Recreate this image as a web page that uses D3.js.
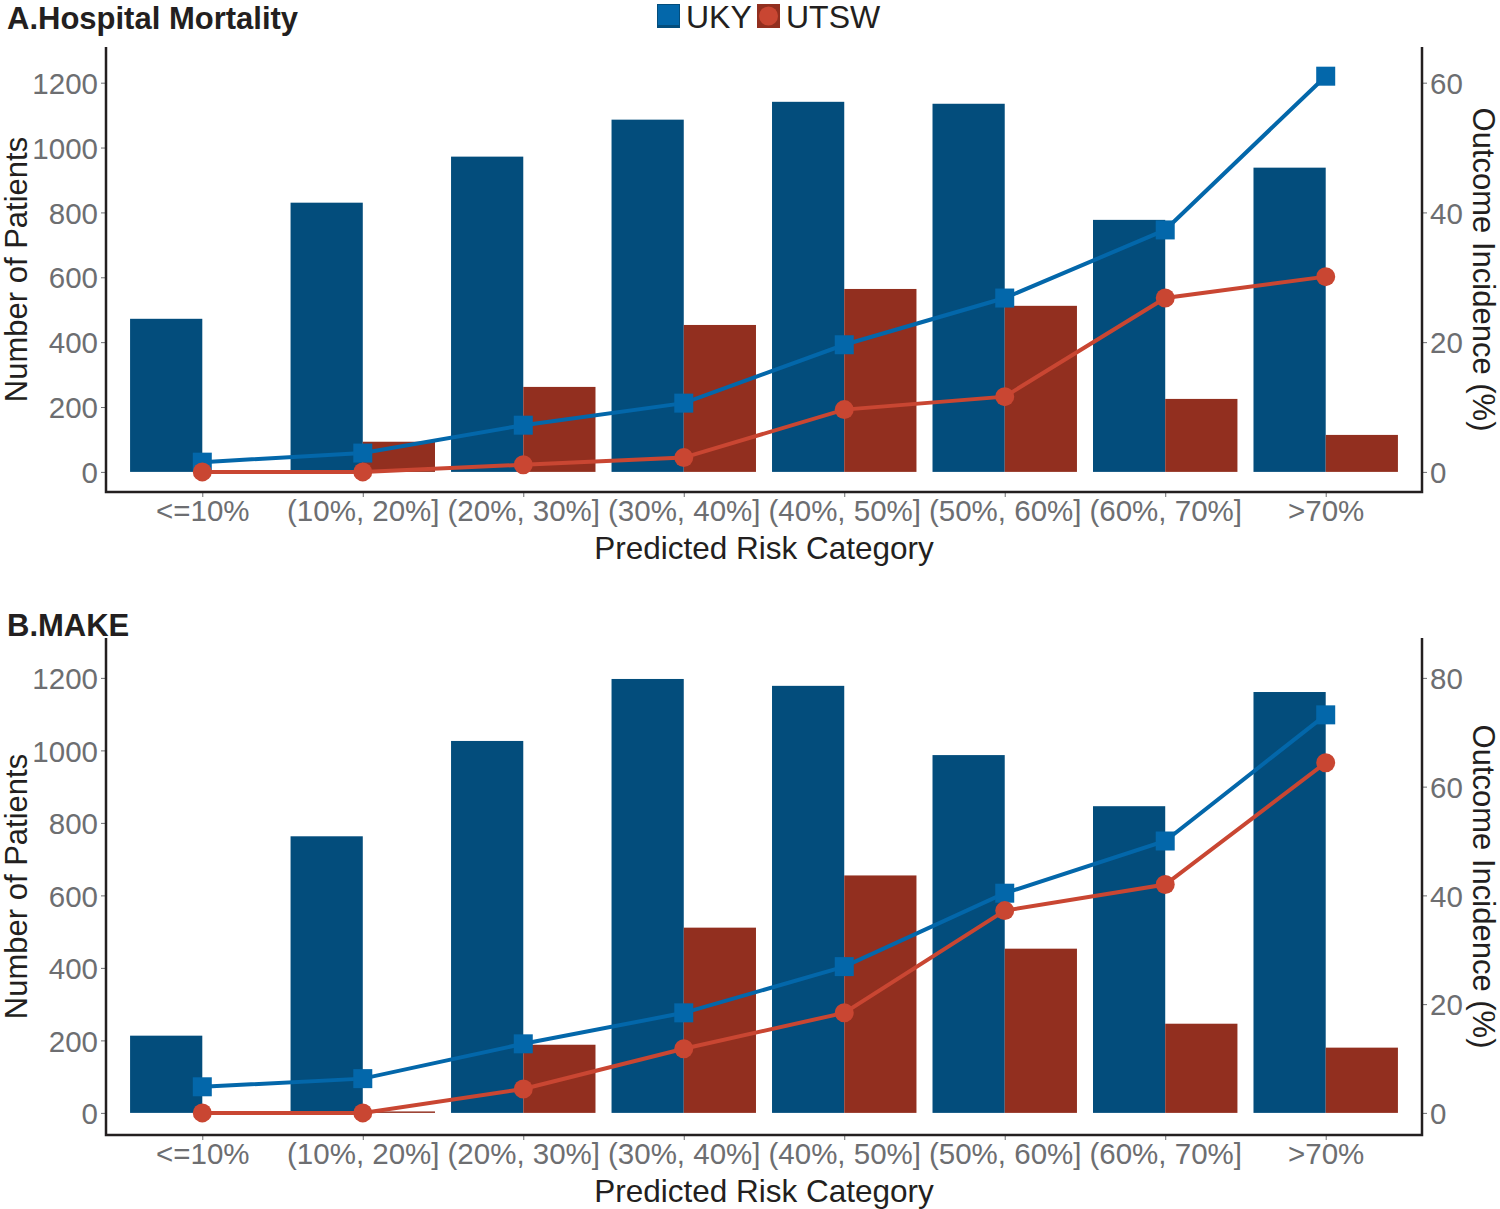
<!DOCTYPE html>
<html>
<head>
<meta charset="utf-8">
<script src="https://cdn.jsdelivr.net/npm/d3@7"></script>
<style>
  html, body { margin: 0; padding: 0; background: #fff; }
  svg { display: block; font-family: "Liberation Sans", Arial, sans-serif; }
</style>
</head>
<body>
<svg id="chart" width="1500" height="1209"></svg>
<script>
// ---------------- data ----------------
const categories = ["<=10%", "(10%, 20%]", "(20%, 30%]", "(30%, 40%]", "(40%, 50%]", "(50%, 60%]", "(60%, 70%]", ">70%"];
const seriesNames = ["UKY", "UTSW"];

// Panel A: Hospital Mortality
const mortalityUKYCount  = [472, 830, 972, 1086, 1141, 1135, 777, 938];
const mortalityUTSWCount = [0, 93, 262, 453, 564, 512, 225, 114];
const mortalityUKYRate   = [1.5, 2.9, 7.2, 10.6, 19.6, 26.8, 37.3, 61.0];
const mortalityUTSWRate  = [0, 0, 1.1, 2.2, 9.6, 11.6, 26.8, 30.1];

// Panel B: MAKE
const makeUKYCount  = [213, 763, 1026, 1197, 1178, 987, 846, 1161];
const makeUTSWCount = [0, 4, 188, 511, 655, 453, 246, 180];
const makeUKYRate   = [4.8, 6.3, 12.7, 18.4, 26.9, 40.4, 50.0, 73.2];
const makeUTSWRate  = [0, 0, 4.4, 11.8, 18.4, 37.2, 42.0, 64.4];

const leftTicks = [0, 200, 400, 600, 800, 1000, 1200];
const rightTicksA = [0, 20, 40, 60];
const rightTicksB = [0, 20, 40, 60, 80];

// ---------------- style ----------------
const colors = {
  ukyBar: "#034d7c", utswBar: "#922f1f",
  ukyLine: "#0367aa", utswLine: "#c94632",
  tick: "#6d6e71", axis: "#231f20", text: "#231f20"
};

const svg = d3.select("#chart");
const x = d3.scaleLinear().domain([0.4, 8.6]).range([106, 1422]);
const barW = 0.45;
const fmt = d3.format("d");

function panel(cfg) {
  const g = svg.append("g");
  const yL = d3.scaleLinear().domain(cfg.leftDomain).range([cfg.bottom, cfg.top]);
  const yR = d3.scaleLinear().domain(cfg.leftDomain.map(v => v / cfg.factor)).range([cfg.bottom, cfg.top]);

  // bars
  const idx = d3.range(categories.length);
  g.selectAll(".ukyBar").data(idx).join("rect")
    .attr("x", i => x(i + 1 - barW)).attr("width", x(1) - x(1 - barW))
    .attr("y", i => yL(cfg.ukyCount[i])).attr("height", i => yL(0) - yL(cfg.ukyCount[i]))
    .attr("fill", colors.ukyBar);
  g.selectAll(".utswBar").data(idx).join("rect")
    .attr("x", i => x(i + 1)).attr("width", x(1) - x(1 - barW))
    .attr("y", i => yL(cfg.utswCount[i])).attr("height", i => Math.max(0, yL(0) - yL(cfg.utswCount[i])))
    .attr("fill", colors.utswBar);

  // axes
  const axL = g.append("g").attr("transform", `translate(${x.range()[0]},0)`)
    .call(d3.axisLeft(yL).tickValues(leftTicks).tickFormat(fmt).tickSize(5).tickPadding(3));
  const axR = g.append("g").attr("transform", `translate(${x.range()[1]},0)`)
    .call(d3.axisRight(yR).tickValues(cfg.rightTicks).tickFormat(fmt).tickSize(5).tickPadding(3));
  const axB = g.append("g").attr("transform", `translate(0,${cfg.bottom})`)
    .call(d3.axisBottom(x).tickValues(d3.range(1, 9)).tickFormat(d => categories[d - 1]).tickSize(5).tickPadding(2));
  [axL, axR, axB].forEach(a => {
    a.select(".domain").remove();
    a.selectAll(".tick line").attr("stroke", colors.tick).attr("stroke-width", 1);
    a.selectAll(".tick text").attr("fill", colors.tick).style("font-size", "29.5px");
  });
  axB.selectAll(".tick text").attr("dy", "0.75em");
  axL.selectAll(".tick text").attr("dy", "0.36em");
  axR.selectAll(".tick text").attr("dy", "0.36em");

  // axis lines
  g.append("path").attr("fill", "none").attr("stroke", colors.axis).attr("stroke-width", 2.5)
    .attr("d", `M${x.range()[0]},${cfg.top}V${cfg.bottom}H${x.range()[1]}V${cfg.top}`);

  // lines & points
  const line = d3.line().x((d, i) => x(i + 1)).y(d => yR(d));
  g.append("path").datum(cfg.ukyRate).attr("d", line).attr("fill", "none")
    .attr("stroke", colors.ukyLine).attr("stroke-width", 4);
  const sq = 19;
  g.selectAll(".ukyPt").data(cfg.ukyRate).join("rect")
    .attr("x", (d, i) => x(i + 1) - sq / 2).attr("y", d => yR(d) - sq / 2)
    .attr("width", sq).attr("height", sq).attr("fill", colors.ukyLine);
  g.append("path").datum(cfg.utswRate).attr("d", line).attr("fill", "none")
    .attr("stroke", colors.utswLine).attr("stroke-width", 4);
  g.selectAll(".utswPt").data(cfg.utswRate).join("circle")
    .attr("cx", (d, i) => x(i + 1)).attr("cy", d => yR(d)).attr("r", 9.5)
    .attr("fill", colors.utswLine);

  // titles
  const midY = (cfg.top + cfg.bottom) / 2;
  g.append("text").attr("transform", `translate(27,${midY}) rotate(-90)`)
    .attr("text-anchor", "middle").attr("fill", colors.text)
    .style("font-size", "31px").text("Number of Patients");
  g.append("text").attr("transform", `translate(1473,${midY}) rotate(90)`)
    .attr("text-anchor", "middle").attr("fill", colors.text)
    .style("font-size", "31px").text("Outcome Incidence (%)");
  g.append("text").attr("x", (x.range()[0] + x.range()[1]) / 2).attr("y", cfg.bottom + 56)
    .attr("text-anchor", "middle").attr("dy", "0.36em").attr("fill", colors.text)
    .style("font-size", "31.5px").text("Predicted Risk Category");
  g.append("text").attr("x", 7).attr("y", cfg.titleY)
    .attr("fill", colors.text).style("font-size", "31px").style("font-weight", "bold")
    .text(cfg.title);
}

panel({
  title: "A.Hospital Mortality", titleY: 29,
  top: 47, bottom: 492, leftDomain: [-62, 1310], factor: 20, rightTicks: rightTicksA,
  ukyCount: mortalityUKYCount, utswCount: mortalityUTSWCount,
  ukyRate: mortalityUKYRate, utswRate: mortalityUTSWRate
});
panel({
  title: "B.MAKE", titleY: 636,
  top: 638, bottom: 1135, leftDomain: [-61, 1310], factor: 15, rightTicks: rightTicksB,
  ukyCount: makeUKYCount, utswCount: makeUTSWCount,
  ukyRate: makeUKYRate, utswRate: makeUTSWRate
});

// legend
const legend = svg.append("g");
const legendX = [657, 757];
seriesNames.forEach((name, i) => {
  const lg = legend.append("g").attr("transform", `translate(${legendX[i]},4)`);
  lg.append("rect").attr("width", 23).attr("height", 24)
    .attr("fill", i === 0 ? colors.ukyBar : colors.utswBar);
  if (i === 0) {
    lg.append("rect").attr("x", 1).attr("y", 1).attr("width", 21).attr("height", 20).attr("fill", colors.ukyLine);
  } else {
    lg.append("circle").attr("cx", 11.5).attr("cy", 12).attr("r", 9.5).attr("fill", colors.utswLine);
  }
  lg.append("text").attr("x", 29).attr("y", 12).attr("dy", "0.36em")
    .attr("fill", colors.text).style("font-size", "32px").text(name);
});
</script>
</body>
</html>
